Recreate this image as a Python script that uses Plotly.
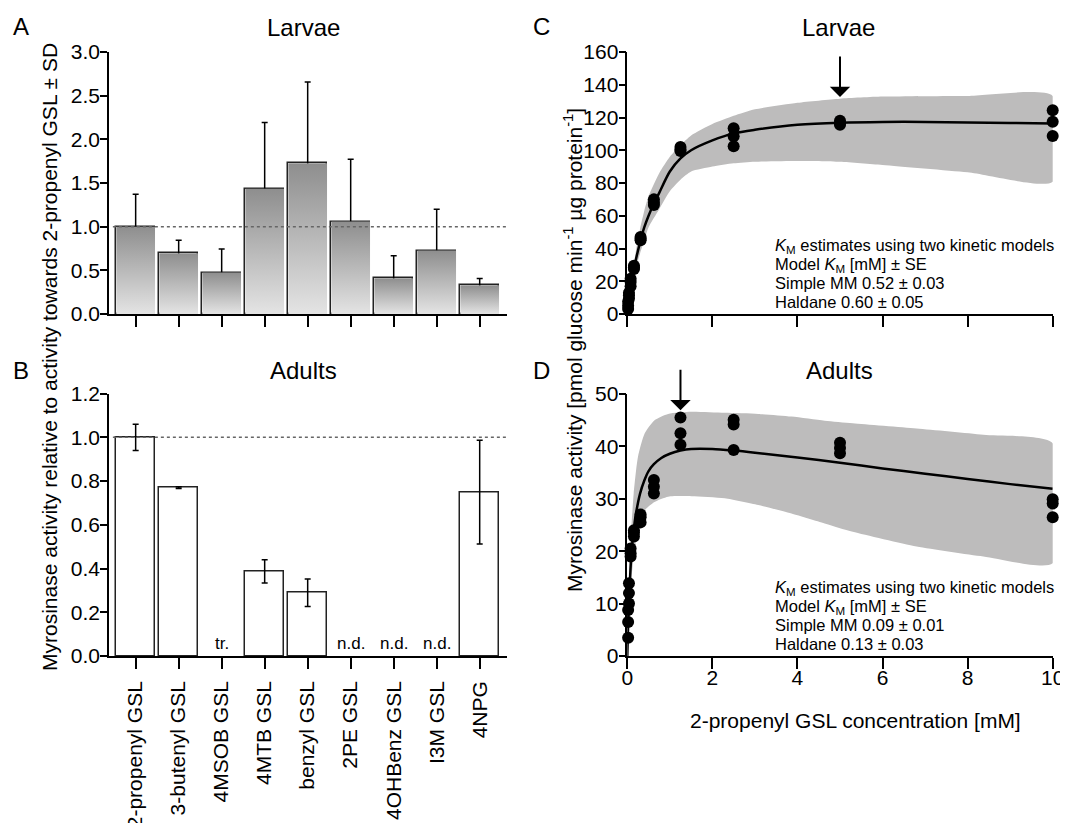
import plotly.graph_objects as go

# ---------------- data ----------------
categories = ["2-propenyl GSL", "3-butenyl GSL", "4MSOB GSL", "4MTB GSL", "benzyl GSL",
              "2PE GSL", "4OHBenz GSL", "I3M GSL", "4NPG"]
larvae_rel = [1.00, 0.695, 0.474, 1.433, 1.727, 1.058, 0.410, 0.726, 0.329]
larvae_sd = [0.37, 0.15, 0.27, 0.76, 0.93, 0.715, 0.256, 0.472, 0.078]
adult_rel = [1.00, 0.770, None, 0.387, 0.289, None, None, None, 0.749]
adult_sd = [0.06, 0.004, None, 0.053, 0.063, None, None, None, 0.237]
adult_notes = ["", "", "tr.", "", "", "n.d.", "n.d.", "n.d.", ""]

conc = [0.0195, 0.0195, 0.0195, 0.039, 0.039, 0.039, 0.078, 0.078, 0.078,
        0.156, 0.156, 0.156, 0.3125, 0.3125, 0.3125, 0.625, 0.625, 0.625,
        1.25, 1.25, 1.25, 2.5, 2.5, 2.5, 5, 5, 5, 10, 10, 10]
larvae_act = [3, 5, 7.5, 9.5, 11.5, 13, 17, 19.5, 21.5, 27.5, 28.5, 29.5,
              45, 46, 47, 66.5, 68, 70, 99.5, 100.5, 102, 102.5, 108.5, 113.5,
              115.5, 116.5, 118, 108.7, 117.4, 124.4]
adult_act = [3.5, 6.5, 8.8, 10, 12, 13.9, 19, 19.6, 20.5, 22.8, 23.5, 24,
             25.5, 26.5, 27, 31, 32.3, 33.6, 40.3, 42.5, 45.5, 39.3, 44.2, 45.1,
             38.7, 39.7, 40.7, 26.5, 29.1, 29.9]

# fitted curves
larvae_fit_x = [0, 0.05, 0.1, 0.156, 0.2, 0.3125, 0.4, 0.5, 0.625, 0.75, 1.0, 1.25,
                1.5, 2.0, 2.5, 3.0, 4.0, 5.0, 6.0, 7.0, 8.0, 9.0, 10.0]
larvae_fit_y = [0, 11, 19, 27, 33, 45, 53, 60, 67.5, 74, 87, 95, 100, 106, 110.3,
                112.5, 115.5, 116.8, 117.3, 117.3, 117, 116.7, 116.4]
adult_fit_x = [0, 0.02, 0.05, 0.1, 0.15, 0.2, 0.3, 0.4, 0.5, 0.625, 0.8, 1.0, 1.25,
               1.5, 2.0, 2.5, 3.0, 4.0, 5.0, 6.0, 7.0, 8.0, 9.0, 10.0]
adult_fit_y = [0, 6, 12.5, 19.8, 24, 27, 31, 33.5, 35.3, 36.6, 37.8, 38.6, 39.2,
               39.5, 39.5, 39.2, 38.8, 37.9, 36.9, 35.8, 34.8, 33.8, 32.8, 31.9]

# confidence bands
larvae_band_x = [0, 0.05, 0.1, 0.2, 0.3, 0.4, 0.5, 0.75, 1.0, 1.25, 1.5, 2.0, 2.5,
                 3.0, 4.0, 5.0, 6.0, 8.0, 10.0]
larvae_band_hi = [0, 12, 22, 38, 52, 63, 72, 86, 96, 103, 109, 116, 121, 125, 129,
                  131.5, 132.8, 133.2, 133.2]
larvae_band_lo = [0, 10, 17, 28, 37, 45, 53, 64, 75, 82, 87, 90, 92, 93, 93.5, 93,
                  91, 86.5, 80.8]
adult_band_x = [0, 0.02, 0.05, 0.087, 0.15, 0.25, 0.41, 0.64, 0.96, 1.51, 2.29,
                3.08, 3.86, 4.64, 5.3, 6.8, 8.37, 10.0]
adult_band_hi = [0, 9, 17, 23.4, 31, 38, 42.5, 45, 46.2, 46.6, 46.4, 46.2, 45.7,
                 44.9, 44.4, 43.4, 42.2, 40.6]
adult_band_lo = [0, 5, 10, 14, 19, 24, 27.8, 29.4, 30.4, 30.5, 30.1, 28.8, 27.2,
                 25.3, 23.7, 20.9, 19.0, 17.7]

larvae_peak_conc, larvae_peak_act = 5, 132.5
adult_peak_conc, adult_peak_act = 1.25, 46.9

larvae_text = ["<i>K</i><sub>M</sub> estimates using two kinetic models",
               "Model <i>K</i><sub>M</sub> [mM] ± SE",
               "Simple MM 0.52 ± 0.03", "Haldane 0.60 ± 0.05"]
adult_text = ["<i>K</i><sub>M</sub> estimates using two kinetic models",
              "Model <i>K</i><sub>M</sub> [mM] ± SE",
              "Simple MM 0.09 ± 0.01", "Haldane 0.13 ± 0.03"]

# ---------------- layout helpers ----------------
W, H = 1068, 823
OFF = 8  # page body margin in the viewer
FONT = "Liberation Sans, Arial, sans-serif"


def px(x):
    return (x - OFF) / W


def py(y):
    return 1 - (y - OFF) / H


idx = list(range(len(categories)))
BW = 0.9

fig = go.Figure()

# ---- Panel A : gradient bars ----
for i, v in zip(idx, larvae_rel):
    fig.add_trace(go.Scatter(
        x=[i - BW / 2, i - BW / 2, i + BW / 2, i + BW / 2, i - BW / 2],
        y=[0, v, v, 0, 0], mode="lines", fill="toself",
        line=dict(width=0),
        fillgradient=dict(type="vertical",
                          colorscale=[[0, "#e4e4e4"], [1, "#8e8e8e"]]),
        xaxis="x", yaxis="y", hoverinfo="skip", showlegend=False))
fig.add_trace(go.Bar(
    x=idx, y=larvae_rel, width=BW,
    marker=dict(color="rgba(0,0,0,0)", line=dict(color="#222", width=1.5)),
    error_y=dict(type="data", array=larvae_sd, visible=True, color="black",
                 thickness=1.5, width=3),
    xaxis="x", yaxis="y", showlegend=False))

# ---- Panel B : white bars ----
fig.add_trace(go.Bar(
    x=idx, y=adult_rel, width=BW,
    marker=dict(color="white", line=dict(color="#222", width=1.5)),
    error_y=dict(type="data", array=adult_sd, visible=True, color="black",
                 thickness=1.5, width=3),
    xaxis="x2", yaxis="y2", showlegend=False))

# ---- Panels C, D ----
for (bx, bhi, blo, fx, fy, act, xa, ya) in [
        (larvae_band_x, larvae_band_hi, larvae_band_lo, larvae_fit_x, larvae_fit_y,
         larvae_act, "x3", "y3"),
        (adult_band_x, adult_band_hi, adult_band_lo, adult_fit_x, adult_fit_y,
         adult_act, "x4", "y4")]:
    fig.add_trace(go.Scatter(
        x=bx + bx[::-1], y=bhi + blo[::-1], mode="lines", fill="toself",
        fillcolor="#bdbcbc", line=dict(width=0, shape="spline", smoothing=0.6),
        xaxis=xa, yaxis=ya, hoverinfo="skip", showlegend=False))
    fig.add_trace(go.Scatter(
        x=fx, y=fy, mode="lines",
        line=dict(color="black", width=2.5, shape="spline", smoothing=0.8),
        xaxis=xa, yaxis=ya, showlegend=False))
    fig.add_trace(go.Scatter(
        x=conc, y=act, mode="markers",
        marker=dict(color="black", size=12),
        cliponaxis=False, xaxis=xa, yaxis=ya, showlegend=False))

# ---------------- axes ----------------
axis_common = dict(showline=True, linecolor="black", linewidth=1.5, ticks="outside",
                   tickcolor="black", tickwidth=1.5, showgrid=False, zeroline=False,
                   automargin=False,
                   tickfont=dict(size=21, color="black", family=FONT))
xr = [-0.62, 8.635]

fig.update_layout(
    xaxis=dict(axis_common, domain=[px(109), px(507)], range=xr, anchor="y",
               tickmode="array", tickvals=idx, showticklabels=False, ticklen=11),
    yaxis=dict(axis_common, domain=[py(314), py(52)], range=[0, 3.0], anchor="x",
               dtick=0.5, tickformat=".1f", ticklen=7, ticklabelstandoff=-4),
    xaxis2=dict(axis_common, domain=[px(109), px(507)], range=xr, anchor="y2",
                tickmode="array", tickvals=idx, ticktext=categories, tickangle=-90,
                ticklen=11, ticklabelstandoff=4),
    yaxis2=dict(axis_common, domain=[py(656), py(393.5)], range=[0, 1.2], anchor="x2",
                dtick=0.2, tickformat=".1f", ticklen=7, ticklabelstandoff=-4),
    xaxis3=dict(axis_common, domain=[px(627.3), px(1052.7)], range=[0, 10],
                anchor="y3", dtick=2, showticklabels=False, ticklen=11),
    yaxis3=dict(axis_common, domain=[py(314), py(52)], range=[0, 160], anchor="x3",
                dtick=20, ticklen=7, ticklabelstandoff=-4),
    xaxis4=dict(axis_common, domain=[px(627.3), px(1052.7)], range=[0, 10],
                anchor="y4", dtick=2, ticklen=11, ticklabelstandoff=-9),
    yaxis4=dict(axis_common, domain=[py(656), py(394)], range=[0, 50], anchor="x4",
                dtick=10, ticklen=7, ticklabelstandoff=-4),
)

shapes = []
for xa, ya in [("x", "y"), ("x2", "y2")]:
    shapes.append(dict(type="line", xref=xa, yref=ya, x0=-0.53, x1=xr[1], y0=1, y1=1,
                       line=dict(color="#666", width=1.5, dash="dot"), layer="above"))

ann = []


def txt(x, y, s, size=21, xanchor="center", yanchor="middle", **kw):
    d = dict(x=px(x), y=py(y), xref="paper", yref="paper", text=s, showarrow=False,
             xanchor=xanchor, yanchor=yanchor,
             font=dict(size=size, color="black", family=FONT))
    d.update(kw)
    ann.append(d)


txt(21, 27, "A", 24)
txt(21, 370, "B", 24)
txt(541, 27, "C", 24)
txt(541, 370, "D", 24)
txt(303, 28, "Larvae", 24)
txt(303, 370, "Adults", 24)
txt(838, 28, "Larvae", 24)
txt(839, 370, "Adults", 24)
txt(50, 357, "Myrosinase activity relative to activity towards 2-propenyl GSL ± SD",
    21, textangle=-90)
txt(573, 350, "Myrosinase activity [pmol glucose min<sup>-1</sup> µg protein<sup>-1</sup>]",
    21, textangle=-90)
txt(855, 720, "2-propenyl GSL concentration [mM]", 21)

for k, line in enumerate(larvae_text):
    txt(773, 234 + 19 * k, line, 16.5, xanchor="left", yanchor="top")
for k, line in enumerate(adult_text):
    txt(773, 576 + 19 * k, line, 16.5, xanchor="left", yanchor="top")

for i, note in zip(idx, adult_notes):
    if note:
        ann.append(dict(x=i, y=0, xref="x2", yref="y2", text=note, showarrow=False,
                        xanchor="center", yanchor="bottom", yshift=1,
                        font=dict(size=17, color="black", family=FONT)))

for (xc, yc, xa, ya) in [(larvae_peak_conc, larvae_peak_act, "x3", "y3"),
                         (adult_peak_conc, adult_peak_act, "x4", "y4")]:
    ann.append(dict(x=xc, y=yc, xref=xa, yref=ya, text="", showarrow=True,
                    arrowhead=1, arrowsize=1.7, arrowwidth=2, arrowcolor="black",
                    ax=0, ay=-42, standoff=0))

fig.update_layout(
    width=W, height=H, margin=dict(l=0, r=0, t=0, b=0),
    paper_bgcolor="white", plot_bgcolor="rgba(0,0,0,0)",
    font=dict(family=FONT, color="black"),
    showlegend=False, bargap=0,
    shapes=shapes, annotations=ann,
)

fig.write_html("out.html")
